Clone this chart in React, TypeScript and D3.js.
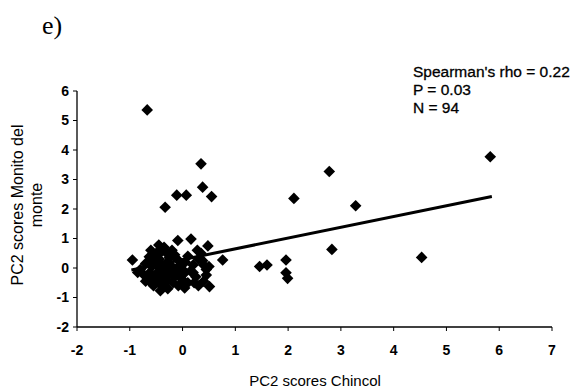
import React from "react";
import * as d3 from "d3";

// PC2 scores Chincol (x) vs PC2 scores Monito del monte (y)
const pointsX: number[] = [
  // outliers
  -0.67, 0.35, 0.38, -0.11, 0.07, 0.55, -0.33, 2.11, 0.76, 1.46, 1.6, 1.96, 1.96, 1.99, 5.83, 2.78, 3.28, 2.83, 4.53,
  // column near -0.45
  -0.45, -0.42, -0.46, -0.44, -0.47, -0.43, -0.45, -0.42, -0.46, -0.4, -0.42,
  // left part of cluster
  -0.95, -0.63, -0.7, -0.8, -0.75, -0.65, -0.6, -0.55, -0.85, -0.7, -0.58, -0.62, -0.55,
  // middle
  -0.3, -0.28, -0.32, -0.25, -0.3, -0.35, -0.2, -0.15, -0.18, -0.1, -0.05, -0.12, -0.08, 0.0, 0.04, 0.02, 0.05, -0.09, 0.16, -0.2,
  // right
  0.1, 0.15, 0.2, 0.25, 0.3, 0.35, 0.3, 0.4, 0.45, 0.48, 0.51, 0.4, 0.38, 0.5, 0.45, 0.22,
  // extra
  -0.5, -0.38, -0.35, -0.55, -0.25, 0.1, -0.6, -0.35, -0.15, 0.0, -0.05, 0.2, -0.28, -0.5, 0.28,
];
const pointsY: number[] = [
  5.36, 3.53, 2.74, 2.47, 2.47, 2.42, 2.06, 2.36, 0.27, 0.05, 0.1, 0.27, -0.16, -0.35, 3.77, 3.27, 2.11, 0.63, 0.36,
  0.78, 0.6, 0.45, 0.3, 0.15, 0.0, -0.15, -0.3, -0.45, -0.6, -0.77,
  0.27, 0.38, 0.15, -0.05, -0.2, -0.35, -0.5, -0.6, -0.15, -0.45, 0.05, -0.15, -0.3,
  0.5, 0.2, -0.05, -0.2, -0.4, -0.55, 0.05, -0.3, -0.5, 0.3, 0.1, -0.1, -0.6, -0.4, -0.68, -0.2, 0.2, 0.93, 0.98, 0.6,
  -0.5, -0.1, 0.1, -0.3, 0.3, 0.5, -0.6, 0.1, -0.24, 0.75, -0.63, -0.45, 0.25, 0.05, -0.05, -0.5,
  0.5, 0.1, -0.25, 0.25, 0.35, 0.4, 0.6, 0.7, 0.45, -0.05, -0.3, -0.15, -0.7, -0.2, 0.6,
];

// fitted trend line
const trendIntercept = 0.284;
const trendSlope = 0.365;
const trendRange: number[] = [-0.97, 5.86];

const xTicks: number[] = [-2, -1, 0, 1, 2, 3, 4, 5, 6, 7];
const yTicks: number[] = [-2, -1, 0, 1, 2, 3, 4, 5, 6];

const statsLines: string[] = ["Spearman's rho = 0.22", "P = 0.03", "N = 94"];
const xTitle = "PC2 scores Chincol";
const yTitleLines: string[] = ["PC2 scores Monito del", "monte"];
const panelLabel = "e)";

export default function App() {
  const W = 575;
  const H = 390;
  const x = d3.scaleLinear().domain([-2, 7]).range([77, 552]);
  const y = d3.scaleLinear().domain([-2, 6]).range([327, 91]);
  const r = 5.8;
  const diamond = (cx: number, cy: number) =>
    `M${cx},${cy - r}L${cx + r},${cy}L${cx},${cy + r}L${cx - r},${cy}Z`;
  const line = d3
    .line<number>()
    .x((d) => x(d))
    .y((d) => y(trendIntercept + trendSlope * d));
  const font = "Arial, 'Liberation Sans', sans-serif";
  const y0 = y(-2);
  const x0 = x(-2);

  return (
    <svg
      width={W}
      height={H}
      style={{ position: "absolute", left: 0, top: 0, background: "#fff" }}
    >
      <rect width={W} height={H} fill="#fff" />
      <text x={42} y={34} fontFamily="'Times New Roman', 'Liberation Serif', serif" fontSize={26}>
        {panelLabel}
      </text>
      {/* axes */}
      <line x1={x0} x2={x0} y1={y(6)} y2={y0} stroke="#000" strokeWidth={1.3} />
      <line x1={x0} x2={x(7)} y1={y0} y2={y0} stroke="#000" strokeWidth={1.3} />
      {xTicks.map((t) => (
        <g key={"xt" + t}>
          <line x1={x(t)} x2={x(t)} y1={y0} y2={y0 + 4} stroke="#000" strokeWidth={1} />
          <text
            x={x(t)}
            y={y0 + 28}
            textAnchor="middle"
            fontFamily={font}
            fontSize={14}
            fontWeight="bold"
          >
            {t}
          </text>
        </g>
      ))}
      {yTicks.map((t) => (
        <g key={"yt" + t}>
          <line x1={x0 - 4} x2={x0} y1={y(t)} y2={y(t)} stroke="#000" strokeWidth={1} />
          <text
            x={x0 - 8}
            y={y(t)}
            dy="0.35em"
            textAnchor="end"
            fontFamily={font}
            fontSize={14}
            fontWeight="bold"
          >
            {t}
          </text>
        </g>
      ))}
      {/* points */}
      {pointsX.map((px, i) => (
        <path key={"p" + i} d={diamond(x(px), y(pointsY[i]))} fill="#000" />
      ))}
      {/* trend line */}
      <path d={line(trendRange) || ""} stroke="#000" strokeWidth={3} fill="none" />
      {/* stats */}
      {statsLines.map((s, i) => (
        <text
          key={"s" + i}
          x={413}
          y={77 + i * 18}
          fontFamily={font}
          fontSize={15.5}
          stroke="#000"
          strokeWidth={0.3}
        >
          {s}
        </text>
      ))}
      {/* axis titles */}
      <text x={315} y={386} textAnchor="middle" fontFamily={font} fontSize={15}>
        {xTitle}
      </text>
      {yTitleLines.map((s, i) => (
        <text
          key={"yl" + i}
          transform={`translate(${23 + i * 19},205) rotate(-90)`}
          textAnchor="middle"
          fontFamily={font}
          fontSize={16}
        >
          {s}
        </text>
      ))}
    </svg>
  );
}
